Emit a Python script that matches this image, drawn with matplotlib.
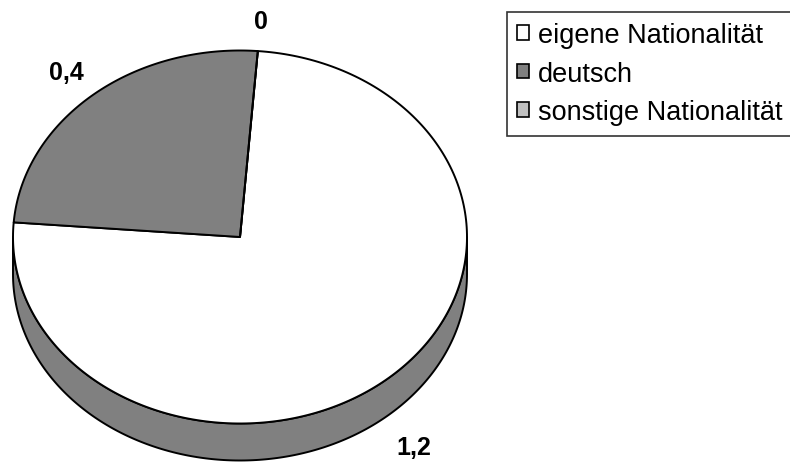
import numpy as np
import matplotlib.pyplot as plt
from matplotlib.patches import Polygon, Patch

plt.rcParams['font.family'] = ['Liberation Sans', 'DejaVu Sans']

categories = ['eigene Nationalität', 'deutsch', 'sonstige Nationalität']
values = [1.2, 0.4, 0.0]
value_labels = ['1,2', '0,4', '0']
top_colors = ['#ffffff', '#808080', '#c0c0c0']
side_colors = ['#808080', '#404040', '#606060']

# pie geometry in pixel units
cx, cy = 240, 238
rx, ry = 227, 186.5
depth = 37
start_angle = 4.5  # degrees clockwise from 12 o'clock


def rim(a0, a1, dy=0.0, n=240):
    phi = np.radians(np.linspace(a0, a1, n))
    return np.column_stack([cx + rx * np.sin(phi), cy - ry * np.cos(phi) + dy])


fig = plt.figure(figsize=(7.9, 4.64), dpi=100)
ax = fig.add_axes([0, 0, 1, 1])
ax.set_xlim(0, 790)
ax.set_ylim(464, 0)
ax.axis('off')

total = sum(values)
spans = np.array(values) / total * 360
bounds = start_angle + np.concatenate([[0], np.cumsum(spans)])

# side wall on the front half of the disc
for i in range(len(values)):
    a0, a1 = bounds[i], bounds[i + 1]
    for f0, f1 in [(90, 270), (450, 630)]:
        lo, hi = max(a0, f0), min(a1, f1)
        if hi <= lo:
            continue
        pts = np.vstack([rim(lo, hi), rim(hi, lo, dy=depth)])
        ax.add_patch(Polygon(pts, closed=True, facecolor=side_colors[i],
                             edgecolor='black', linewidth=1.4, joinstyle='round'))

# top face wedges
for i in range(len(values)):
    a0, a1 = bounds[i], bounds[i + 1]
    pts = np.vstack([[cx, cy], rim(a0, a1)])
    ax.add_patch(Polygon(pts, closed=True, facecolor=top_colors[i],
                         edgecolor='black', linewidth=1.4, joinstyle='round'))

# value labels outside the rim
for i in range(len(values)):
    mid = np.radians((bounds[i] + bounds[i + 1]) / 2)
    lx = cx + 268 * np.sin(mid)
    ly = cy - 217 * np.cos(mid)
    if np.cos(mid) < 0:
        ly += depth + 8
    ax.text(lx, ly, value_labels[i], ha='center', va='center',
            fontsize=18, fontweight='bold')

handles = [Patch(facecolor=c, edgecolor='black', linewidth=1.2) for c in top_colors]
leg = ax.legend(handles, categories, loc='upper left',
                bbox_to_anchor=(507 / 790, 1 - 13 / 464), bbox_transform=fig.transFigure,
                borderaxespad=0, fontsize=19.5, frameon=True, fancybox=False,
                handlelength=0.45, handleheight=0.45, handletextpad=0.3,
                labelspacing=0.46, borderpad=0.38)
leg.get_frame().set_edgecolor('black')
leg.get_frame().set_linewidth(1.2)

fig.savefig('out.png', dpi=100, facecolor='white')
